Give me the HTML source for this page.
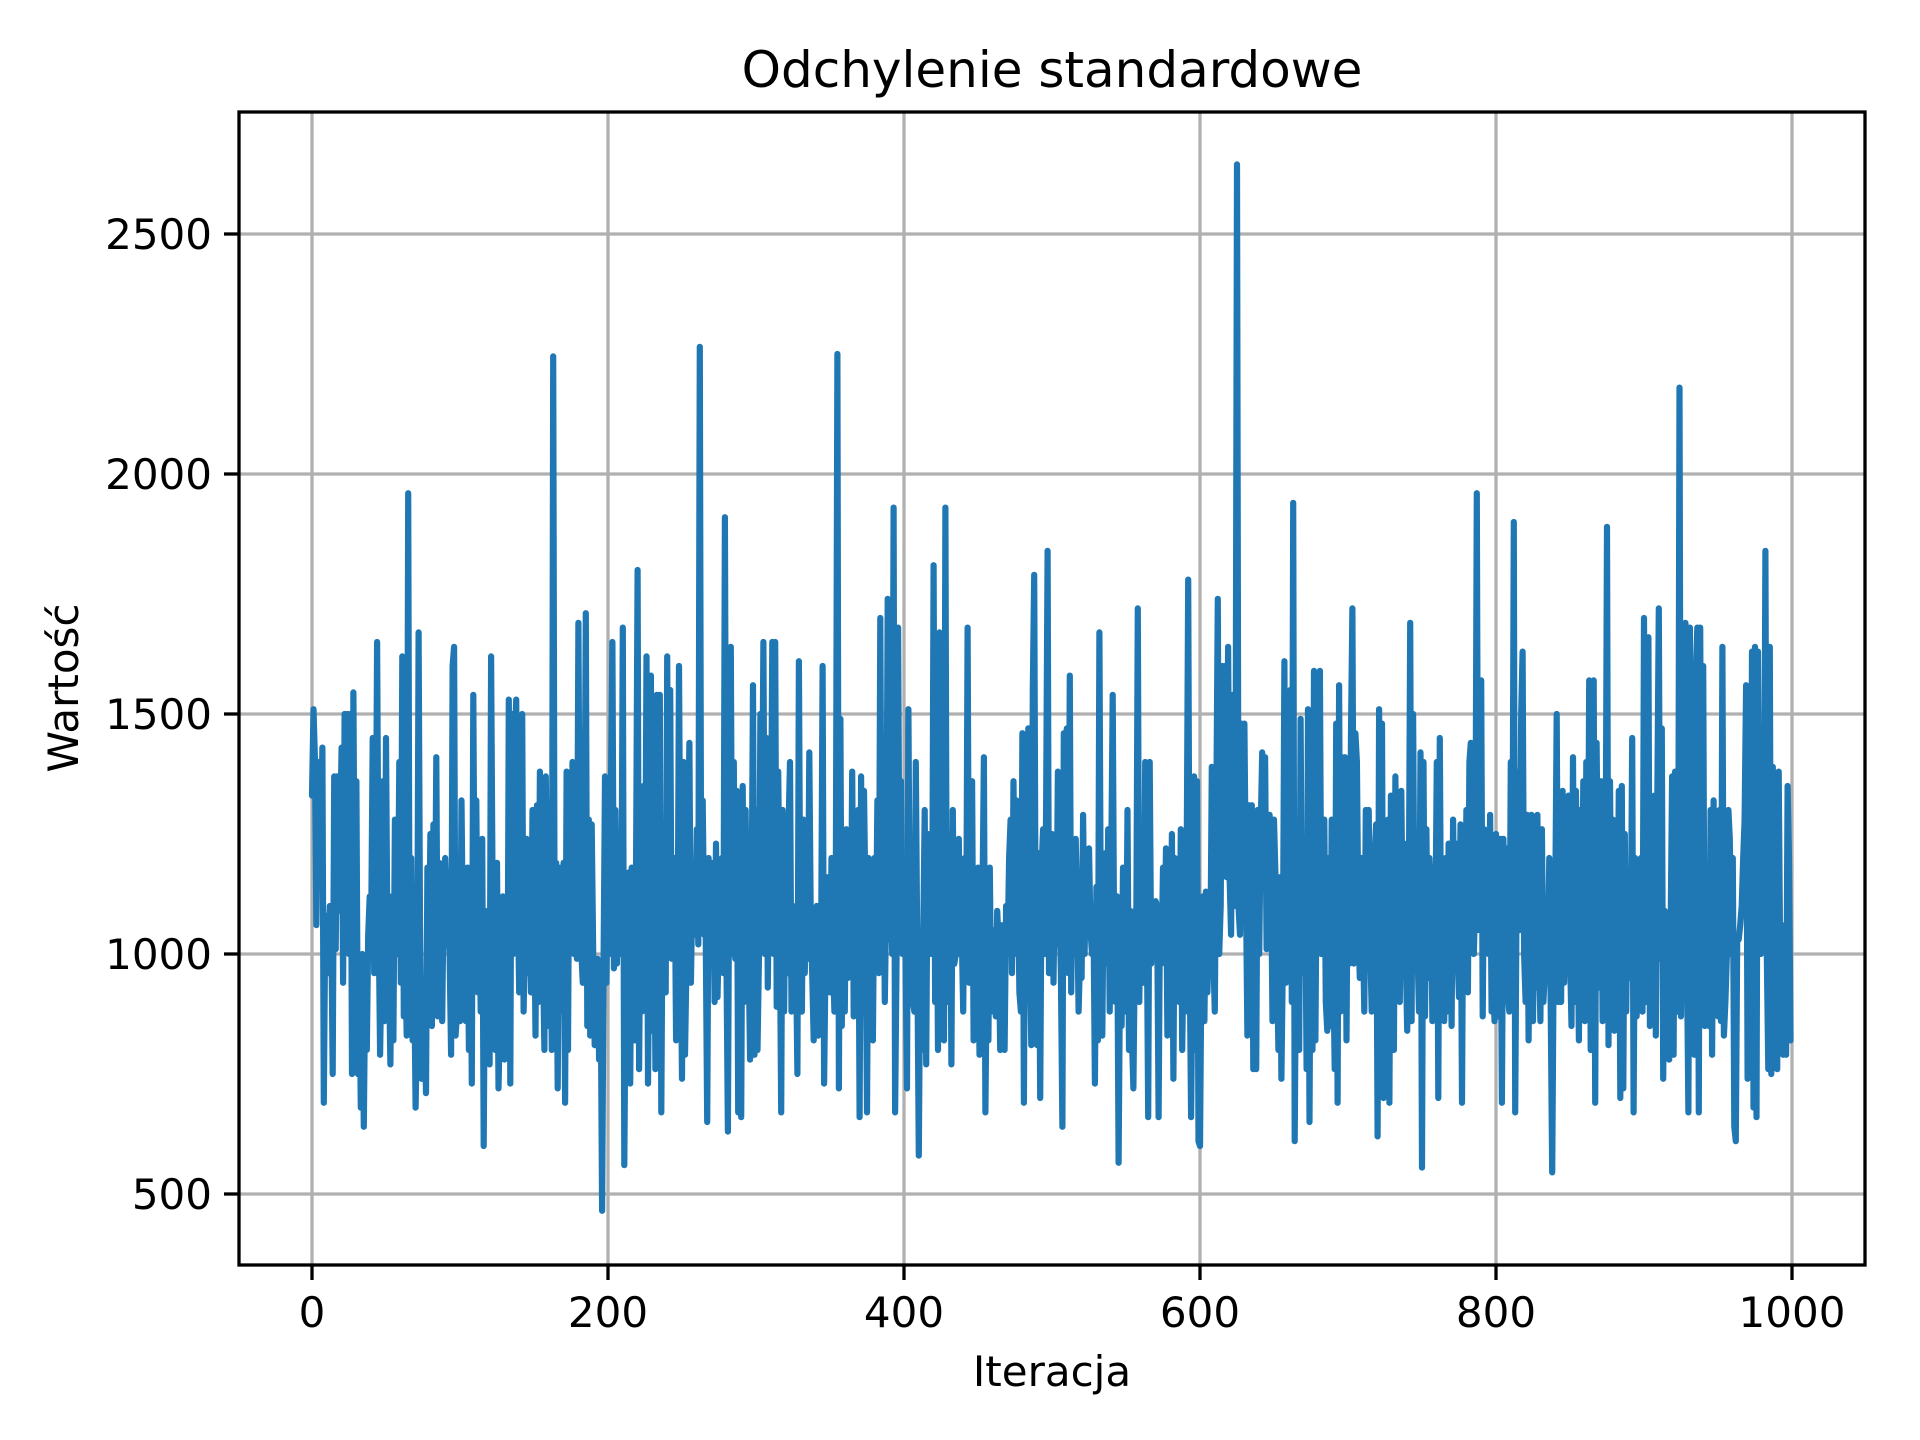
<!DOCTYPE html>
<html><head><meta charset="utf-8"><style>
html,body{margin:0;padding:0;background:#fff;}
svg{display:block;font-family:"DejaVu Sans","Liberation Sans",sans-serif;}
</style></head><body>
<svg id="chart" width="1920" height="1440" viewBox="0 0 1920 1440">
<rect x="0" y="0" width="1920" height="1440" fill="#fff"/>
<g id="grid"></g>
<g id="series"></g>
<rect x="239" y="112" width="1626" height="1153" fill="none" stroke="#000" stroke-width="3.3"/>
<g id="ticks"></g>
<text x="1052" y="87" text-anchor="middle" font-size="50">Odchylenie standardowe</text>
<text x="1052" y="1386" text-anchor="middle" font-size="42">Iteracja</text>
<text x="0" y="0" transform="translate(78,688) rotate(-90)" text-anchor="middle" font-size="42">Wartość</text>
</svg>
<script>
const xTicks = [0,200,400,600,800,1000];
const yTicks = [500,1000,1500,2000,2500];
const values = [
1330,1510,1400,1060,1400,1170,1250,1430,690,1080,1000,960,1100,1080,750,1370,1010,1370,1090,1250,
1430,940,1500,1120,1500,1000,1500,750,1545,1000,1360,750,960,680,1000,640,960,800,1040,1120,
1060,1450,960,1100,1650,1080,790,1010,1360,860,1450,1000,960,770,1120,820,1280,1010,1000,1400,
940,1620,870,1000,830,1960,850,1200,820,980,680,870,1670,1060,740,930,880,710,1180,960,
1250,850,1270,970,1410,870,1190,1070,860,1140,1200,1100,1060,1000,790,1600,1640,830,880,1000,
860,1320,1000,1110,860,1180,800,1180,730,1540,1000,1320,920,1130,880,1240,600,1090,830,1010,
770,1620,1120,850,800,1190,720,870,810,1120,780,1050,790,1530,730,1500,1000,1440,1530,1130,
920,1150,1500,880,1050,1240,960,1090,920,1300,1160,830,1310,900,1380,1120,1000,800,1370,1080,
850,1190,800,2245,940,1190,720,1180,880,1060,1190,690,1380,800,1360,1100,1400,1000,1200,990,
1690,1080,1000,940,1120,1710,850,1280,830,1270,1000,810,950,990,780,960,465,990,1370,940,
1280,1000,1360,1650,970,1300,980,1120,1000,1020,1680,560,990,760,1170,730,1180,960,820,1200,
1800,760,1170,880,1350,980,1620,730,1060,1580,840,1270,760,1540,1000,1540,670,1200,1100,920,
1620,1000,1550,990,1060,1200,820,1000,1600,1080,740,1400,790,970,1200,1440,940,1130,1180,1040,
1260,1020,2265,1050,1320,1040,1050,650,1200,1080,990,1190,900,1230,910,1060,1180,1200,960,1910,
1000,630,1300,1640,1000,1400,990,1340,670,1210,660,1350,900,1300,1040,1000,780,1100,1560,790,
1300,800,1000,1500,1200,1650,1000,1450,930,1230,1170,1650,1000,1650,890,1380,1090,670,1300,880,
1230,960,1270,1400,880,1100,940,1000,750,1610,1000,880,1280,960,1250,990,1420,1060,960,820,
1060,1100,830,870,1000,1600,730,1000,1160,1040,920,1200,990,880,1200,2250,720,1490,850,1200,
880,1260,950,1050,980,1380,870,1100,920,1300,660,1370,880,1340,1100,670,1200,900,1100,820,
1200,1000,1320,960,1700,1000,1300,900,1100,1740,1030,1200,1000,1930,670,1000,1680,1040,1360,1000,
1060,1000,720,1510,1000,1060,900,880,1400,1000,580,1020,800,1030,1300,770,1250,1000,1200,1000,
1810,900,1240,800,1670,1000,1100,820,1930,900,1050,1250,770,1300,980,1000,1060,1240,1000,1050,
880,1200,1000,1680,940,1000,1360,820,1000,1100,1180,790,1060,1100,1410,670,1000,820,1180,880,
1050,1000,870,1090,1020,800,1060,900,800,1100,1000,1200,1280,960,1360,1000,1320,1150,920,880,
1460,690,1340,1200,1470,1000,810,1550,1790,1000,810,1210,700,1180,1260,1000,1300,1840,960,1000,
1250,940,1190,1020,1380,1100,960,640,1460,1000,1470,960,1580,920,1200,1000,1240,1100,880,1000,
950,1290,1000,1180,1100,1220,1050,1000,1100,730,1140,820,1670,1060,830,1180,1210,980,1260,880,
1180,1540,1000,900,1120,565,1000,850,1180,1070,880,1300,800,1090,830,720,1030,1100,1720,900,
1200,1060,940,1400,1100,660,1400,980,1090,1020,1110,1100,660,1100,980,1180,1030,1220,830,1100,
950,1250,740,1200,1040,1110,900,1260,800,1020,880,1200,1780,1000,660,1000,1370,800,1360,610,
600,1000,1120,860,1130,920,1060,1000,1390,1000,880,1300,1740,1000,1100,1600,1240,1600,1160,1640,
1160,1040,1540,1100,1230,2645,1100,1040,1480,1300,1480,1140,830,1310,1200,1310,760,1240,760,1300,
1000,1260,1420,1200,1410,1010,1200,1290,1200,860,1280,1160,990,800,1160,740,1000,1610,940,1200,
1000,1550,900,1940,610,1080,1160,800,1490,960,1000,1160,760,1510,650,1300,800,1590,820,1250,
1030,1590,1000,1160,1280,900,840,1200,850,1280,1000,760,1480,690,1560,880,1410,1000,1410,820,
1300,980,1460,1720,980,1460,1400,1060,950,1200,1060,880,1300,990,1300,1020,880,1000,1200,1270,
620,1510,870,1480,700,1200,760,1280,690,1330,1000,800,1370,1040,1160,900,1340,1040,1230,1000,
840,1060,1690,860,1500,1000,1250,1000,880,1420,555,1400,870,1260,950,1200,1110,860,1180,1040,
1400,700,1450,960,1180,860,1200,880,1230,1110,850,1280,1000,1230,1000,910,1270,690,1230,1000,
1300,920,1400,1440,1100,1000,1120,1960,1050,1350,1570,870,1260,1070,1250,1000,1290,880,1000,860,
1250,870,1030,1240,690,1240,1000,1220,920,880,1400,1050,1900,670,1160,1380,1050,1500,1630,1000,
900,1290,820,1160,1290,860,1200,930,1290,1000,860,1260,900,960,1110,1000,1200,870,545,1000,
1100,1500,900,1160,900,1340,940,1100,1000,1330,1000,850,1410,900,1340,1130,820,1300,1000,1360,
860,1400,1000,1570,800,1460,1570,690,1440,1100,930,1360,860,1250,1100,1890,810,1360,1000,1280,
840,1200,1000,1340,700,1350,720,1250,880,1160,950,1000,1450,670,1200,870,1000,1000,1200,880,
1700,900,1050,1660,850,1010,900,1330,830,1320,1720,990,1470,740,1090,830,1080,780,1040,1370,
790,1380,1000,880,2180,870,1160,950,1690,1000,670,1680,1000,1120,790,1580,1680,670,1680,1000,
1600,850,1000,1100,850,1300,790,1320,1050,1060,870,1300,860,1640,830,900,1000,1300,1240,1000,
1200,640,610,1030,1030,1060,1100,1200,1280,1560,740,1450,1000,1630,680,1640,660,1630,1180,1000,
1270,1060,1840,1000,760,1640,750,1390,1000,1370,760,1380,980,830,790,1060,790,1350,1200,820
];
const NS='http://www.w3.org/2000/svg';
const X0=312, X1=1792, YA=500, YAP=1194, YB=2500, YBP=234;
function sx(i){return X0+(X1-X0)*i/1000;}
function sy(v){return YAP+(YBP-YAP)*(v-YA)/(YB-YA);}
const grid=document.getElementById('grid'), ticks=document.getElementById('ticks'), series=document.getElementById('series');
xTicks.forEach(t=>{
  const g=document.createElementNS(NS,'line');
  g.setAttribute('x1',sx(t));g.setAttribute('x2',sx(t));g.setAttribute('y1',112);g.setAttribute('y2',1265);
  g.setAttribute('stroke','#b0b0b0');g.setAttribute('stroke-width','3.3');
  
  
  grid.appendChild(g);
  const tk=document.createElementNS(NS,'line');
  tk.setAttribute('x1',sx(t));tk.setAttribute('x2',sx(t));tk.setAttribute('y1',1265);tk.setAttribute('y2',1280);
  tk.setAttribute('stroke','#000');tk.setAttribute('stroke-width','3.3');
  
  
  ticks.appendChild(tk);
  const tx=document.createElementNS(NS,'text');
  tx.setAttribute('x',sx(t));tx.setAttribute('y',1327);tx.setAttribute('text-anchor','middle');tx.setAttribute('font-size','42');
  tx.textContent=t;
  
  
  ticks.appendChild(tx);
});
yTicks.forEach(t=>{
  const g=document.createElementNS(NS,'line');
  g.setAttribute('x1',239);g.setAttribute('x2',1865);g.setAttribute('y1',sy(t));g.setAttribute('y2',sy(t));
  g.setAttribute('stroke','#b0b0b0');g.setAttribute('stroke-width','3.3');
  
  
  grid.appendChild(g);
  const tk=document.createElementNS(NS,'line');
  tk.setAttribute('x1',224);tk.setAttribute('x2',239);tk.setAttribute('y1',sy(t));tk.setAttribute('y2',sy(t));
  tk.setAttribute('stroke','#000');tk.setAttribute('stroke-width','3.3');
  
  
  ticks.appendChild(tk);
  const tx=document.createElementNS(NS,'text');
  tx.setAttribute('x',212);tx.setAttribute('y',sy(t)+15);tx.setAttribute('text-anchor','end');tx.setAttribute('font-size','42');
  tx.textContent=t;
  
  
  ticks.appendChild(tx);
});
const pts=values.map((v,i)=>sx(i).toFixed(1)+','+sy(v).toFixed(1)).join(' ');
const pl=document.createElementNS(NS,'polyline');
pl.setAttribute('points',pts);pl.setAttribute('fill','none');pl.setAttribute('stroke','#1f77b4');
pl.setAttribute('stroke-width','6.2');pl.setAttribute('stroke-linejoin','round');pl.setAttribute('stroke-linecap','round');


series.appendChild(pl);
</script>
</body></html>
